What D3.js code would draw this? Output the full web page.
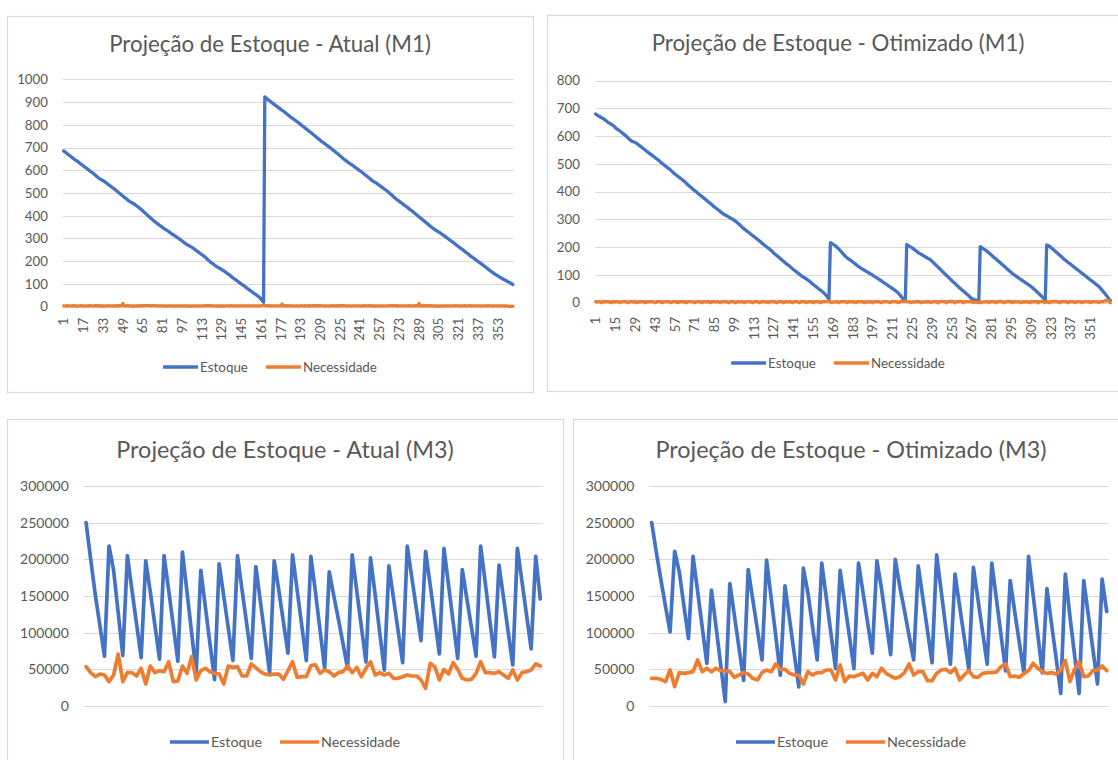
<!DOCTYPE html>
<html>
<head>
<meta charset="utf-8">
<script src="https://cdn.jsdelivr.net/npm/d3@7"></script>
<style>
  html, body { margin: 0; padding: 0; background: #ffffff; }
  svg { display: block; }
</style>
</head>
<body>
<svg id="chart" width="1118" height="760"></svg>
<script>
// ---------- Data ----------
// Daily projection (M1): day 1..365
const m1Days = d3.range(1, 366);
// Weekly projection (M3): period 1..100
const m3Periods = d3.range(1, 101);

const m1AtualEstoque = [
  685,681,677,672,668,664,660,656,651,647,
  643,640,636,632,627,623,619,615,611,607,
  603,598,594,590,586,582,577,572,568,563,
  560,557,554,551,547,543,538,534,530,526,
  522,518,514,509,505,500,496,491,487,482,
  478,474,469,465,461,458,455,452,448,444,
  440,436,431,427,422,417,412,407,402,397,
  392,388,383,378,373,369,365,361,357,353,
  349,345,341,338,335,331,327,323,319,315,
  312,309,305,301,297,293,289,285,281,277,
  273,270,267,264,261,257,253,249,245,241,
  237,233,229,225,221,216,211,206,201,196,
  192,188,184,180,176,173,170,167,164,160,
  157,153,149,145,141,137,132,128,124,120,
  116,112,108,104,100,96,92,88,84,80,
  76,72,68,64,60,56,52,48,44,40,
  33,27,20,
  923,918,914,909,905,900,896,
  892,888,884,880,876,872,868,864,860,856,
  851,847,843,838,834,830,826,822,818,814,
  810,806,802,797,793,789,784,780,776,771,
  767,763,758,754,749,745,740,736,731,727,
  723,719,715,711,707,703,699,695,690,686,
  682,677,673,668,664,659,654,649,645,641,
  637,633,629,626,622,618,614,610,606,602,
  598,594,590,586,581,577,573,568,564,559,
  555,551,548,545,541,537,533,529,525,521,
  517,513,509,505,500,495,490,485,480,476,
  471,467,463,459,455,451,447,443,439,435,
  430,426,422,418,413,409,404,400,395,391,
  386,382,377,373,368,364,359,355,350,346,
  342,338,335,332,328,325,321,317,313,309,
  305,301,297,293,289,285,281,277,272,268,
  264,260,256,252,248,243,239,235,231,226,
  222,218,214,210,206,202,198,194,190,186,
  182,178,174,170,165,161,157,153,149,145,
  141,138,135,131,128,125,122,119,116,113,
  110,107,104,101,97
];

const m1AtualNecessidade = [
  4,4,4,5,4,4,4,4,5,4,4,3,4,4,5,4,4,4,4,4,
  4,5,4,4,4,4,5,5,4,5,3,3,3,3,4,4,5,4,4,4,
  4,4,4,5,4,5,4,5,14,5,4,4,5,4,4,3,3,3,4,4,
  4,4,5,4,5,5,5,5,5,5,5,4,5,5,5,4,4,4,4,4,
  4,4,4,3,3,4,4,4,4,4,3,3,4,4,4,4,4,4,4,4,
  4,3,3,3,3,4,4,4,4,4,4,4,4,4,4,5,5,5,5,5,
  4,4,4,4,4,3,3,3,3,4,3,4,4,4,4,4,5,4,4,4,
  4,4,4,4,4,4,4,4,4,4,4,4,4,4,4,4,4,4,4,4,
  4,6,6,7,5,5,4,5,4,4,4,4,4,4,4,4,4,12,4,4,
  5,4,4,5,4,4,4,4,4,4,4,4,4,5,4,4,5,4,4,5,
  4,4,5,4,5,4,5,4,5,4,4,4,4,4,4,4,4,4,5,4,
  4,5,4,5,4,5,5,5,4,4,4,4,4,3,4,4,4,4,4,4,
  4,4,4,4,5,4,4,5,4,5,4,4,3,3,4,4,4,4,4,4,
  4,4,4,4,5,5,5,5,5,4,5,4,4,4,4,4,4,4,4,4,
  5,4,4,4,5,4,5,4,14,4,5,4,5,4,5,4,5,4,5,4,
  4,4,3,3,4,3,4,4,4,4,4,4,4,4,4,4,4,4,5,4,
  4,4,4,4,4,5,4,4,4,5,4,4,4,4,4,4,4,4,4,4,
  4,4,4,4,5,4,4,4,4,4,4,4,4,4,4,4,4,4,4,4,
  2,1,1,1,2
];

const m1OtimEstoque = [
  680,676,673,670,667,664,661,657,653,649,646,643,640,636,
  630,626,623,619,615,611,607,603,598,593,588,584,581,579,
  577,574,570,566,562,558,554,550,546,542,538,534,531,527,
  523,519,515,511,506,502,498,494,490,486,482,478,473,468,
  464,460,456,452,448,444,440,436,431,426,421,417,413,408,
  404,400,396,391,387,383,379,375,371,366,362,358,354,349,
  345,341,337,333,329,325,321,318,315,312,309,306,303,300,
  297,293,289,285,280,275,270,266,262,258,254,250,246,242,
  238,234,230,226,222,218,213,209,205,201,197,193,189,184,
  178,174,170,166,162,157,153,149,144,140,136,132,128,123,
  119,115,111,107,103,99,95,92,89,86,82,78,74,69,
  65,61,57,53,49,45,41,37,32,27,20,12,
  216,213,210,207,203,198,193,188,182,176,170,
  165,161,157,154,150,146,142,138,134,130,127,123,
  120,117,114,111,108,105,102,99,95,92,89,86,
  82,79,75,72,68,65,61,58,54,51,47,43,
  40,35,29,23,16,10,5,
  210,206,203,200,197,193,189,185,181,
  178,175,172,169,166,163,160,157,
  154,149,144,139,134,129,124,119,114,109,104,99,
  94,89,84,79,74,70,65,60,55,51,
  46,42,38,33,29,24,19,15,
  12,10,9,8,8,
  202,199,195,192,188,
  184,180,176,171,167,162,158,
  154,149,145,140,136,131,127,122,118,113,109,104,
  100,97,93,90,86,83,79,76,72,69,65,62,
  58,54,49,45,40,35,30,25,20,
  16,8,
  208,206,203,199,195,190,186,181,177,172,168,163,158,
  154,150,146,142,138,134,130,126,122,118,114,110,
  106,102,98,94,90,86,82,78,74,70,66,62,
  58,52,46,40,34,28,21,14,8
];

const m1OtimNecessidade = [
  4,3,4,4,0,4,3,4,4,3,4,0,4,4,3,4,4,0,3,4,
  4,4,3,0,4,4,4,3,4,0,4,3,4,4,4,0,4,3,4,4,
  4,3,0,4,4,4,4,0,4,3,4,4,4,0,3,4,4,4,0,4,
  4,4,3,4,0,4,4,4,4,3,0,4,4,4,4,0,4,4,3,4,
  4,0,4,4,4,3,4,4,0,4,4,4,4,3,0,4,4,4,4,0,
  4,4,3,4,4,0,4,4,4,4,3,0,4,4,4,4,0,4,4,4,
  3,4,0,4,4,4,4,3,0,4,4,4,4,0,4,4,3,4,4,0,
  4,4,4,3,0,4,4,4,4,0,3,4,4,4,0,4,4,4,3,0,
  4,4,4,5,5,6,4,0,3,3,3,4,0,4,4,4,4,4,0,4,
  4,4,3,4,0,4,4,4,4,4,0,4,3,3,3,4,0,4,4,4,
  4,3,0,4,4,4,4,3,0,4,4,4,4,4,0,4,5,5,5,5,
  4,4,4,0,3,3,3,4,4,4,0,3,3,3,3,4,4,0,4,4,
  4,5,0,5,5,5,5,5,0,5,5,5,5,5,0,5,4,5,5,5,
  0,4,4,4,5,5,4,0,3,2,1,0,4,0,3,3,4,4,0,4,
  4,4,4,0,4,5,4,5,4,0,4,4,5,4,4,0,4,4,3,4,
  3,0,4,3,4,3,4,0,4,3,4,4,5,0,5,5,5,4,0,4,
  4,0,4,5,4,5,4,4,0,4,4,5,4,4,0,4,4,4,4,0,
  4,4,4,4,0,4,4,4,4,4,0,4,4,4,4,4,0,4,4,4,
  7,7,7,7,0
];

const m3AtualEstoque = [
  250000,200000,152000,110000,68000,218000,185000,127000,69000,205000,
  158000,112000,66000,198000,155000,110000,64000,205000,158000,110000,
  61000,210000,155000,100000,45000,185000,135000,85000,36000,194000,
  150000,106000,62000,205000,158000,112000,65000,190000,142000,94000,
  45000,198000,158000,115000,72000,206000,158000,110000,62000,204000,
  155000,103000,51000,183000,150000,118000,85000,51000,206000,157000,
  108000,60000,202000,152000,100000,49000,191000,147000,103000,59000,
  218000,175000,132000,89000,211000,165000,118000,71000,215000,165000,
  115000,65000,186000,146000,107000,68000,218000,168000,117000,67000,
  192000,147000,101000,56000,215000,170000,124000,78000,204000,146000
];

const m3AtualNecessidade = [
  53600,45500,40000,43600,42300,33200,42300,70900,33200,45500,
  45500,40900,51400,30000,54500,45500,48200,46800,60400,33200,
  34100,54500,44500,67300,35500,48200,51400,46800,44500,43600,
  30000,54500,52700,53600,40900,40900,57300,52300,46800,43600,
  42300,43600,43600,36400,48200,60400,39100,40000,40000,55000,
  56000,44500,49100,46800,40900,45500,46800,54500,45500,52700,
  40000,51400,60400,42300,45500,42300,44500,37700,37700,40000,
  42300,40900,40900,35500,24100,58200,53600,35500,50000,43600,
  59100,50000,37700,35500,36400,44500,60400,45500,45500,44500,
  46800,42300,37700,49100,35500,45500,46800,49100,57300,54500
];

const m3OtimEstoque = [
  250000,210000,172000,136000,101000,211000,183000,137000,92000,204000,
  156000,107000,58000,158000,108000,57000,6000,167000,123000,79000,
  35000,186000,145000,104000,63000,199000,147000,95000,42000,164000,
  118000,72000,26000,188000,154000,108000,63000,195000,147000,99000,
  51000,185000,140000,96000,51000,195000,154000,113000,72000,198000,
  160000,115000,70000,200000,162000,130000,96000,63000,191000,147000,
  103000,59000,206000,156000,106000,57000,180000,136000,93000,50000,
  189000,145000,101000,57000,195000,146000,97000,48000,171000,128000,
  86000,44000,204000,151000,98000,45000,160000,112000,65000,17000,
  180000,122000,70000,17000,171000,124000,77000,30000,173000,129000
];

const m3OtimNecessidade = [
  37700,37700,36400,33200,49100,26400,45500,44500,45500,46800,
  62700,46800,51400,46800,51400,48200,48200,46800,39100,42300,
  45500,43600,37700,35500,45500,49100,46800,57300,50000,50000,
  44500,42300,42300,30000,46800,42300,45500,45500,49100,49100,
  35500,55900,33200,40900,40000,42300,44500,35500,44500,40000,
  51400,44500,40900,37700,40000,45500,57300,42300,46800,46800,
  34500,34500,44500,49100,50000,45500,51400,35500,42300,48200,
  40000,39100,44500,45500,45500,46400,53600,57300,40000,40900,
  39100,44500,48200,58200,51400,46800,44500,45500,43600,49100,
  61800,33200,50000,60400,40000,40900,48200,49100,54500,48200
];

// Axis tick values
const m1AtualYTicks = [0,100,200,300,400,500,600,700,800,900,1000];
const m1OtimYTicks = [0,100,200,300,400,500,600,700,800];
const m3YTicks = [0,50000,100000,150000,200000,250000,300000];
const m1AtualDayTicks = [1,17,33,49,65,81,97,113,129,145,161,177,193,209,225,241,257,273,289,305,321,337,353];
const m1OtimDayTicks = [1,15,29,43,57,71,85,99,113,127,141,155,169,183,197,211,225,239,253,267,281,295,309,323,337,351];

const seriesNames = ["Estoque", "Necessidade"];
const seriesColors = ["#4472C4", "#ED7D31"];

// ---------- Drawing ----------
const FONT = "Lato, 'Open Sans', 'DejaVu Sans', sans-serif";
const TEXT = "#595959";
const GRID = "#d9d9d9";
const svg = d3.select("#chart").attr("font-family", FONT);
svg.append("rect").attr("width", 1118).attr("height", 760).attr("fill", "#ffffff");

function drawPanel(p) {
  const g = svg.append("g");

  // chart frame
  g.append("rect")
    .attr("x", p.frame.x + 0.5).attr("y", p.frame.y + 0.5)
    .attr("width", p.frame.w).attr("height", p.frame.h)
    .attr("fill", "#ffffff").attr("stroke", GRID).attr("stroke-width", 1.2);

  const cx = p.frame.x + p.frame.w / 2;

  // title
  g.append("text")
    .attr("x", cx).attr("y", p.titleY)
    .attr("text-anchor", "middle")
    .attr("font-size", p.titleSize)
    .attr("fill", TEXT)
    .text(p.title);

  const x = d3.scaleBand().domain(p.categories).range([p.plot.l, p.plot.r]).padding(0);
  const y = d3.scaleLinear().domain([0, p.yMax]).range([p.plot.b, p.plot.t]);
  const cxOf = d => x(d) + x.bandwidth() / 2;

  // horizontal gridlines
  g.append("g").selectAll("line").data(p.yTicks).join("line")
    .attr("x1", p.plot.l).attr("x2", p.plot.r)
    .attr("y1", d => Math.round(y(d)) + 0.5).attr("y2", d => Math.round(y(d)) + 0.5)
    .attr("stroke", GRID).attr("stroke-width", 1.2);

  // value axis labels
  const ya = g.append("g")
    .attr("transform", `translate(${p.plot.l},0)`)
    .call(d3.axisLeft(y).tickValues(p.yTicks).tickSize(0).tickPadding(p.yPad).tickFormat(d3.format("d")));
  ya.attr("font-family", FONT).attr("font-size", p.tickSize);
  ya.select(".domain").remove();
  ya.selectAll("text").attr("fill", TEXT);

  // category axis labels (rotated)
  if (p.xTicks) {
    const xa = g.append("g")
      .attr("transform", `translate(0,${p.plot.b})`)
      .call(d3.axisBottom(x).tickValues(p.xTicks).tickSize(0));
    xa.attr("font-family", FONT).attr("font-size", p.tickSize);
    xa.select(".domain").remove();
    xa.selectAll("text")
      .attr("fill", TEXT)
      .attr("transform", "rotate(-90)")
      .attr("text-anchor", "end")
      .attr("x", -p.xLabelGap)
      .attr("y", 0)
      .attr("dy", "0.35em");
  }

  // series lines
  const line = d3.line()
    .x((d, i) => cxOf(p.categories[i]))
    .y(d => y(d))
    .curve(d3.curveLinear);

  p.series.forEach((s, k) => {
    g.append("path")
      .datum(s)
      .attr("fill", "none")
      .attr("stroke", seriesColors[k])
      .attr("stroke-width", p.lineWidth)
      .attr("stroke-linejoin", "round")
      .attr("stroke-linecap", "round")
      .attr("d", line);
  });

  // legend
  const lg = g.append("g").attr("font-size", p.legendSize);
  const items = seriesNames.map((name, k) => {
    const it = lg.append("g");
    it.append("line")
      .attr("x1", 0).attr("x2", p.legendSample)
      .attr("y1", 0).attr("y2", 0)
      .attr("stroke", seriesColors[k]).attr("stroke-width", p.lineWidth);
    const t = it.append("text")
      .attr("x", p.legendSample + 2).attr("y", 0).attr("dy", "0.35em")
      .attr("fill", TEXT).text(name);
    return { g: it, w: p.legendSample + 2 + t.node().getComputedTextLength() };
  });
  const gap = 18;
  const total = d3.sum(items, d => d.w) + gap * (items.length - 1);
  let pos = cx - total / 2;
  items.forEach(it => {
    it.g.attr("transform", `translate(${pos},${p.legendY})`);
    pos += it.w + gap;
  });
}

drawPanel({
  title: "Projeção de Estoque - Atual (M1)",
  frame: { x: 7, y: 16, w: 526, h: 376 },
  plot: { l: 63, r: 513.5, t: 79.3, b: 306.7 },
  titleY: 52, titleSize: 22.3, tickSize: 13.3, legendSize: 13.4, yPad: 15, xLabelGap: 11,
  legendY: 367, legendSample: 35, lineWidth: 3.3,
  categories: m1Days, yMax: 1000, yTicks: m1AtualYTicks, xTicks: m1AtualDayTicks,
  series: [m1AtualEstoque, m1AtualNecessidade]
});

drawPanel({
  title: "Projeção de Estoque - Otimizado (M1)",
  frame: { x: 547, y: 15, w: 582, h: 376 },
  plot: { l: 595, r: 1111, t: 80.7, b: 302.7 },
  titleY: 51, titleSize: 22.3, tickSize: 13.3, legendSize: 13.4, yPad: 15, xLabelGap: 14,
  legendY: 363, legendSample: 35, lineWidth: 3.3,
  categories: m1Days, yMax: 800, yTicks: m1OtimYTicks, xTicks: m1OtimDayTicks,
  series: [m1OtimEstoque, m1OtimNecessidade]
});

drawPanel({
  title: "Projeção de Estoque - Atual (M3)",
  frame: { x: 7, y: 419, w: 556, h: 360 },
  plot: { l: 83.8, r: 542.6, t: 486, b: 706 },
  titleY: 458, titleSize: 23.4, tickSize: 14, legendSize: 14.3, yPad: 15,
  legendY: 742, legendSample: 39, lineWidth: 3.7,
  categories: m3Periods, yMax: 300000, yTicks: m3YTicks, xTicks: null,
  series: [m3AtualEstoque, m3AtualNecessidade]
});

drawPanel({
  title: "Projeção de Estoque - Otimizado (M3)",
  frame: { x: 573, y: 419, w: 556, h: 360 },
  plot: { l: 649.4, r: 1109, t: 486, b: 706 },
  titleY: 458, titleSize: 23.4, tickSize: 14, legendSize: 14.3, yPad: 15,
  legendY: 742, legendSample: 39, lineWidth: 3.7,
  categories: m3Periods, yMax: 300000, yTicks: m3YTicks, xTicks: null,
  series: [m3OtimEstoque, m3OtimNecessidade]
});
</script>
</body>
</html>
